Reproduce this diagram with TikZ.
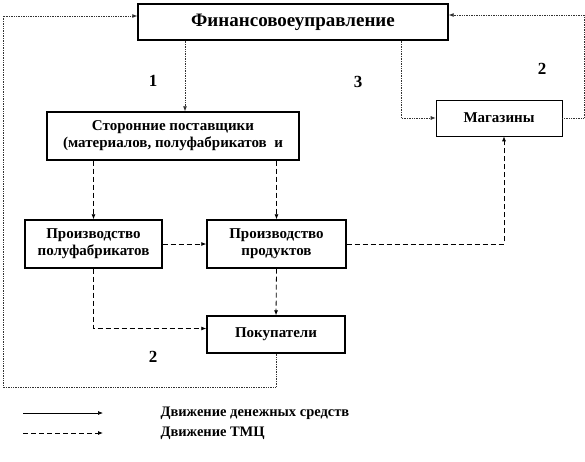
\documentclass[tikz,border=0pt]{standalone}
\usepackage{fontspec}
\setmainfont{Liberation Serif}
\usetikzlibrary{arrows.meta,positioning}
\definecolor{moneyline}{HTML}{333333}

\begin{document}
\begin{tikzpicture}[
  x=1pt, y=-1pt,
  >={Latex[length=5pt,width=4pt]},
  box/.style={draw, line width=1.4pt, minimum height=48pt, align=center, font=\bfseries\fontsize{15}{17}\selectfont, inner sep=1pt},
  shopbox/.style={draw, line width=0.6pt, minimum width=126pt, minimum height=36pt, font=\bfseries\fontsize{15}{17}\selectfont},
  money/.style={->, draw=moneyline, line width=0.7pt, densely dotted},
  goods/.style={->, line width=0.8pt, dash pattern=on 5pt off 3pt},
  num/.style={font=\bfseries\fontsize{17}{19}\selectfont},
  legendtext/.style={anchor=west, font=\bfseries\fontsize{14.5}{17}\selectfont}
]
  \useasboundingbox (0,0) rectangle (585,462);

  % blocks
  \node[box, minimum width=310pt, minimum height=36pt, font=\bfseries\fontsize{19}{21}\selectfont] (fin) at (293,22) {Финансовоеуправление};
  \node[box, minimum width=252pt] (supp) at (173,136) {Сторонние поставщики\\(материалов, полуфабрикатов\ \ и};
  \node[shopbox] (shops) at (499,118) {Магазины};
  \node[box, minimum width=137pt] (semi) at (93.5,244) {Производство\\полуфабрикатов};
  \node[box, minimum width=139pt] (prod) at (276.5,244) {Производство\\продуктов};
  \node[box, minimum width=138pt, minimum height=37pt] (buyers) at (276,334.5) {Покупатели};

  % numbers
  \node[num] (n1) at (153,81) {1};
  \node[num] (n3) at (358,82) {3};
  \node[num] (n2a) at (542,69) {2};
  \node[num] (n2b) at (153,357) {2};

  % money flow
  \draw[money] ([xshift=12pt]supp.north |- fin.south) -- ([xshift=12pt]supp.north);
  \draw[money] ([xshift=108pt]fin.south) |- (shops.west);
  \draw[money] (shops.east) -- ++(22,0) |- ([yshift=7pt]fin.east);
  \coordinate (lowleft) at (3,387);
  \draw[money] (buyers.south) |- (lowleft) |- ([yshift=6pt]fin.west);

  % goods flow
  \draw[goods] (supp.south -| semi.north) -- (semi.north);
  \draw[goods] (supp.south -| prod.north) -- (prod.north);
  \draw[goods] (semi.east) -- (prod.west);
  \draw[goods] (prod.east) -| ([xshift=5pt]shops.south);
  \draw[goods] (semi.south) |- ([yshift=6pt]buyers.west);
  \draw[goods] (prod.south) -- (buyers.north);

  % legend
  \coordinate (m0) at (23,413);
  \coordinate (m1) at (103,413);
  \coordinate (g0) at (23,433);
  \coordinate (g1) at (103,433);
  \draw[->, line width=0.7pt] (m0) -- (m1);
  \draw[goods] (g0) -- (g1);
  \node[legendtext] (lm) at (157,413) {Движение денежных средств};
  \node[legendtext] (lg) at (157,433) {Движение ТМЦ};
\end{tikzpicture}
\end{document}
